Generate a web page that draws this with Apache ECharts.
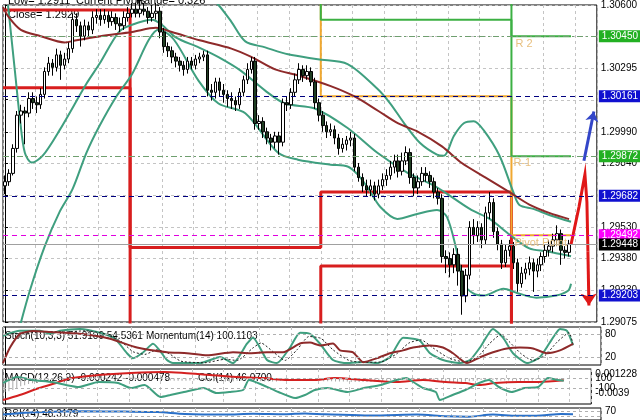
<!DOCTYPE html>
<html><head><meta charset="utf-8">
<script src="https://cdn.jsdelivr.net/npm/echarts@6/dist/echarts.min.js"></script>
<style>html,body{margin:0;padding:0;background:#fff}#c{width:640px;height:420px}</style>
</head><body><div id="c"></div>
<script>
// ---------- price candles (index 0..142) ----------
const openP = [1.2973,1.2975,1.2979,1.2991,1.3007,1.3009,1.3008,1.3015,1.3013,1.3012,1.3017,1.3028,1.3032,1.3030,1.3036,1.3031,1.3034,1.3039,1.3053,1.3050,1.3045,1.3050,1.3048,1.3054,1.3055,1.3053,1.3055,1.3052,1.3054,1.3051,1.3050,1.3054,1.3056,1.3058,1.3056,1.3058,1.3057,1.3054,1.3056,1.3057,1.3047,1.3040,1.3038,1.3035,1.3033,1.3031,1.3029,1.3033,1.3031,1.3034,1.3035,1.3036,1.3019,1.3018,1.3023,1.3019,1.3017,1.3015,1.3014,1.3012,1.3018,1.3024,1.3029,1.3033,1.3003,1.3004,1.2999,1.2996,1.2994,1.2997,1.2994,1.3013,1.3012,1.3018,1.3024,1.3029,1.3026,1.3028,1.3023,1.3013,1.3007,1.3002,1.2999,1.3000,1.2996,1.2991,1.2993,1.2995,1.2996,1.2982,1.2977,1.2973,1.2971,1.2973,1.2969,1.2973,1.2976,1.2978,1.2982,1.2985,1.2980,1.2985,1.2989,1.2977,1.2972,1.2975,1.2979,1.2978,1.2975,1.2970,1.2967,1.2939,1.2938,1.2935,1.2940,1.2932,1.2920,1.2930,1.2953,1.2949,1.2953,1.2947,1.2960,1.2965,1.2951,1.2945,1.2936,1.2942,1.2944,1.2936,1.2926,1.2931,1.2933,1.2936,1.2932,1.2935,1.2939,1.2942,1.2944,1.2947,1.2950,1.2942,1.2941];
const closeP = [1.2975,1.2979,1.2991,1.3007,1.3009,1.3008,1.3015,1.3013,1.3012,1.3017,1.3028,1.3032,1.3030,1.3036,1.3031,1.3034,1.3039,1.3053,1.3050,1.3045,1.3050,1.3048,1.3054,1.3055,1.3053,1.3055,1.3052,1.3054,1.3051,1.3050,1.3054,1.3056,1.3058,1.3056,1.3058,1.3057,1.3054,1.3056,1.3057,1.3047,1.3040,1.3038,1.3035,1.3033,1.3031,1.3029,1.3033,1.3031,1.3034,1.3035,1.3036,1.3019,1.3018,1.3023,1.3019,1.3017,1.3015,1.3014,1.3012,1.3018,1.3024,1.3029,1.3033,1.3003,1.3004,1.2999,1.2996,1.2994,1.2997,1.2994,1.3013,1.3012,1.3018,1.3024,1.3029,1.3026,1.3028,1.3023,1.3013,1.3007,1.3002,1.2999,1.3000,1.2996,1.2991,1.2993,1.2995,1.2996,1.2982,1.2977,1.2973,1.2971,1.2973,1.2969,1.2973,1.2976,1.2978,1.2982,1.2985,1.2980,1.2985,1.2989,1.2977,1.2972,1.2975,1.2979,1.2978,1.2975,1.2970,1.2967,1.2939,1.2938,1.2935,1.2940,1.2932,1.2920,1.2930,1.2953,1.2949,1.2953,1.2947,1.2960,1.2965,1.2951,1.2945,1.2936,1.2942,1.2944,1.2936,1.2926,1.2931,1.2933,1.2936,1.2932,1.2935,1.2939,1.2942,1.2944,1.2947,1.2950,1.2942,1.2941,1.2945];
const highP = [1.2978,1.2981,1.2993,1.3009,1.3012,1.3011,1.3018,1.3018,1.3016,1.3020,1.3030,1.3035,1.3034,1.3039,1.3038,1.3037,1.3042,1.3056,1.3056,1.3052,1.3053,1.3052,1.3057,1.3058,1.3058,1.3058,1.3057,1.3057,1.3056,1.3054,1.3057,1.3059,1.3061,1.3061,1.3062,1.3061,1.3059,1.3060,1.3061,1.3059,1.3049,1.3042,1.3040,1.3037,1.3035,1.3033,1.3035,1.3035,1.3036,1.3037,1.3038,1.3038,1.3022,1.3025,1.3025,1.3022,1.3019,1.3018,1.3016,1.3020,1.3026,1.3032,1.3035,1.3035,1.3007,1.3006,1.3001,1.2998,1.2999,1.2999,1.3015,1.3016,1.3020,1.3027,1.3032,1.3031,1.3031,1.3030,1.3025,1.3015,1.3009,1.3004,1.3003,1.3002,1.2998,1.2996,1.2997,1.2999,1.2998,1.2984,1.2979,1.2976,1.2976,1.2975,1.2976,1.2979,1.2981,1.2985,1.2988,1.2988,1.2989,1.2992,1.2991,1.2979,1.2978,1.2982,1.2982,1.2980,1.2977,1.2972,1.2969,1.2942,1.2941,1.2943,1.2943,1.2935,1.2933,1.2956,1.2957,1.2956,1.2955,1.2963,1.2970,1.2967,1.2953,1.2947,1.2945,1.2947,1.2946,1.2938,1.2934,1.2936,1.2939,1.2938,1.2938,1.2941,1.2945,1.2947,1.2950,1.2954,1.2952,1.2944,1.2947];
const lowP = [1.2969,1.2973,1.2978,1.2989,1.3003,1.2993,1.3006,1.3010,1.3008,1.3010,1.3015,1.3026,1.3026,1.3028,1.3024,1.3029,1.3032,1.3037,1.3047,1.3040,1.3043,1.3045,1.3046,1.3051,1.3050,1.3051,1.3049,1.3050,1.3048,1.3047,1.3048,1.3052,1.3054,1.3054,1.3054,1.3055,1.3051,1.3052,1.3053,1.3044,1.3037,1.3035,1.3032,1.3030,1.3028,1.3026,1.3027,1.3029,1.3029,1.3032,1.3033,1.3016,1.3014,1.3015,1.3016,1.3013,1.3011,1.3010,1.3009,1.3010,1.3016,1.3022,1.3027,1.3000,1.3000,1.2996,1.2993,1.2990,1.2991,1.2988,1.2992,1.3009,1.3010,1.3016,1.3022,1.3023,1.3024,1.3021,1.3010,1.3004,1.2999,1.2996,1.2997,1.2993,1.2988,1.2989,1.2990,1.2992,1.2980,1.2975,1.2970,1.2968,1.2968,1.2966,1.2967,1.2971,1.2973,1.2976,1.2979,1.2977,1.2978,1.2983,1.2974,1.2968,1.2969,1.2973,1.2975,1.2972,1.2967,1.2964,1.2936,1.2931,1.2929,1.2931,1.2925,1.2911,1.2917,1.2928,1.2945,1.2946,1.2943,1.2945,1.2957,1.2948,1.2942,1.2933,1.2934,1.2939,1.2933,1.2922,1.2924,1.2928,1.2930,1.2922,1.2929,1.2932,1.2936,1.2939,1.2941,1.2944,1.2935,1.2938,1.2939];

// ---------- overlay lines [candle index, price] ----------
const maLine = [[-0.5,1.3059],[1,1.3054],[4,1.3048],[9,1.3045],[15,1.3042],[18,1.3043],[24,1.3045],[32,1.3047],[38,1.3049],[42,1.3047],[49,1.3043],[57,1.3039],[62,1.3035],[68,1.3029],[74,1.3026],[82,1.3021],[88,1.3016],[94,1.3009],[99,1.3003],[104,1.2999],[110,1.2992],[115,1.2984],[121,1.2977],[127,1.2970],[132,1.2964],[137,1.2960],[142,1.2957]];
const bbMid = [[0.75,1.3060],[2.5,1.30282],[3.75,1.30055],[5,1.29889],[6.75,1.29842],[9.5,1.29875],[13.75,1.29998],[20.5,1.30221],[23.75,1.30316],[28.75,1.30472],[32,1.30505],[37,1.30529],[39.5,1.30505],[43,1.30444],[48.75,1.30396],[53.75,1.30349],[59.5,1.30282],[65.5,1.30188],[70.5,1.30126],[78,1.30102],[86.25,1.30008],[93.75,1.29889],[101.25,1.29794],[108.75,1.29723],[117,1.29619],[122,1.29571],[127,1.29496],[132,1.29429],[136.25,1.29415],[142.5,1.29391]];
const bbLow = [[3,1.2900],[6.25,1.29225],[10,1.29439],[13.75,1.29605],[17,1.29714],[20.5,1.29889],[23.75,1.30017],[28,1.30159],[32,1.30268],[36.25,1.30434],[38.75,1.30482],[42.5,1.30434],[48.75,1.30235],[53.75,1.30126],[60.5,1.30079],[68.75,1.29889],[73.75,1.29856],[82,1.29832],[86.25,1.29823],[88.75,1.29785],[91.25,1.29723],[94.5,1.29628],[98.75,1.29571],[103.75,1.29595],[108.75,1.29614],[111.25,1.29581],[113.75,1.29415],[115.5,1.29259],[118,1.29211],[120.5,1.29202],[125.5,1.29235],[128.75,1.29216],[133.75,1.29192],[138.75,1.29202],[141.75,1.29225],[142.5,1.29259]];
const bbUp = [[48.75,1.30695],[53.75,1.3060],[57,1.30519],[60.5,1.30425],[65.5,1.30396],[71.25,1.30363],[78.75,1.30339],[86.25,1.30316],[93.75,1.30197],[97,1.30126],[100.5,1.30031],[104.5,1.29936],[108.75,1.2988],[110.5,1.29875],[113,1.2997],[115.5,1.30031],[118,1.30041],[120.5,1.29998],[124.5,1.29875],[128,1.29699],[129.5,1.29638],[133,1.29619],[137,1.2959],[142.5,1.29557]];

// ---------- daily pivot / range step levels ----------
const dayBounds = [-0.5, 31.5, 79.5, 127.5, 142.5];
const redA = [1.30576, 1.29434, 1.29700, 1.2880];
const redB = [1.30202, 1.2880, 1.29344, 1.2880];
const pivotLv = [1.3070, 1.3070, 1.30161, 1.29492];
const r1Lv = [1.3070, 1.3070, 1.30529, 1.29872];
const r2Lv = [1.3070, 1.3070, 1.3070, 1.30450];

// ---------- horizontal levels with price tags ----------
const levelVals = [1.30450, 1.30161, 1.29872, 1.29682, 1.29492, 1.29448, 1.29203];
const levelCols = ['#6f9f6f', '#000080', '#6f9f6f', '#000080', '#e000e0', '#a0a0a0', '#000080'];
const levelTags = ['#22b022', '#1010d0', '#22b022', '#1010d0', '#ff00ff', '#000000', '#1010d0'];

// ---------- arrows ----------
const blueArrow = [[145.75,1.29851],[148.25,1.30088]];
const redArrow = [[142.5,1.29448],[144.5,1.29628],[146,1.29785],[146.5,1.29652],[146.75,1.29415],[147,1.29154]];

// ---------- tick labels ----------
const priceTicks = [1.29075,1.2923,1.2938,1.2953,1.29685,1.2984,1.2999,1.30145,1.30295,1.3045,1.306];

// ---------- sub indicators [index, value] ----------
const stochMain = [[-0.5,77],[3.75,90],[8.75,90],[11.25,82],[13.75,90],[18.75,95],[23.75,85],[27.5,69],[30.5,31],[32,18],[34.5,33],[37,56],[40.5,13],[42,5],[48.75,5],[53.75,21],[57,5],[60.5,56],[62,72],[65.5,13],[68,5],[71.25,46],[73.75,85],[76.25,82],[78.75,56],[82,13],[85.5,5],[89.5,8],[93,5],[96.25,21],[99.5,72],[102,69],[103.75,64],[106.25,31],[109.5,13],[113.75,5],[116.25,13],[118.75,46],[122,95],[124.5,72],[127,31],[130.5,5],[133.75,21],[137,72],[138.75,95],[140.5,90],[142,51.91]];
const stochSig = [[-0.5,80],[5,85],[10,88],[15,87],[20,90],[25,82],[29,62],[32,35],[35,28],[38,40],[41,30],[44,10],[50,6],[55,15],[58,12],[62,45],[64,58],[67,35],[70,12],[73,40],[76,75],[79,70],[82,40],[86,12],[90,7],[94,8],[98,30],[101,58],[104,66],[107,45],[111,18],[115,8],[118,20],[121,55],[124,80],[126,62],[129,30],[132,12],[135,25],[138,60],[141,85],[142,54.54]];
const momentum = [[-0.5,99.10],[1.25,99.92],[3.75,100.64],[7,100.79],[11.25,100.74],[18.75,100.64],[26.25,100.38],[33,99.92],[40.5,99.67],[45.5,99.62],[50.5,99.51],[57,99.67],[61.25,99.62],[65.5,99.67],[69.5,99.67],[73.75,100.13],[76.25,100.18],[78.75,100.03],[82,100.13],[83.75,99.77],[87,99.67],[89.5,99.15],[93,99.36],[96.25,99.62],[99.5,99.77],[102,99.92],[106.25,100.03],[109.5,99.92],[112,99.62],[115.5,99.10],[118.75,99.41],[122,99.67],[125.5,99.87],[128.75,99.92],[132,99.87],[135.5,99.62],[138.75,99.77],[142,100.11]];
const macdHist = [-0.0036,-0.0034,-0.0031,-0.0026,-0.0021,-0.0018,-0.0015,-0.0013,-0.0011,-0.0009,
-0.0007,-0.0005,-0.0004,-0.0002,-0.0001,0.0001,0.0002,0.0003,0.0003,0.0002,
0.0003,0.0003,0.0004,0.0004,0.0003,0.0003,0.0002,0.0002,0.0002,0.0001,
0.0002,0.0002,0.0003,0.0003,0.0002,0.0002,0.0002,0.0001,0.0001,-0.0001,
-0.0003,-0.0004,-0.0005,-0.0006,-0.0006,-0.0006,-0.0006,-0.0005,-0.0005,-0.0004,
-0.0004,-0.0006,-0.0007,-0.0007,-0.0007,-0.0007,-0.0008,-0.0008,-0.0007,-0.0006,
-0.0005,-0.0004,-0.0003,-0.0005,-0.0006,-0.0007,-0.0008,-0.0008,-0.0008,-0.0008,
-0.0006,-0.0005,-0.0004,-0.0003,-0.0002,-0.0002,-0.0002,-0.0003,-0.0004,-0.0005,
-0.0006,-0.0007,-0.0007,-0.0007,-0.0008,-0.0008,-0.0008,-0.0008,-0.0009,-0.0009,
-0.0009,-0.0009,-0.0009,-0.0009,-0.0008,-0.0008,-0.0007,-0.0006,-0.0005,-0.0005,
-0.0005,-0.0004,-0.0004,-0.0005,-0.0005,-0.0005,-0.0005,-0.0005,-0.0006,-0.0006,
-0.0008,-0.0009,-0.0009,-0.0009,-0.0009,-0.0009,-0.0009,-0.0008,-0.0007,-0.0006,
-0.0005,-0.0004,-0.0003,-0.0003,-0.0004,-0.0005,-0.0005,-0.0005,-0.0005,-0.0006,
-0.0006,-0.0006,-0.0006,-0.0005,-0.0005,-0.0004,-0.0004,-0.0003,-0.0003,-0.0002,
-0.0002,-0.0002,-0.000242];
const macdSignal = [[-0.5,-0.005789],[3.75,-0.00444],[8.75,-0.00255],[13,-0.001201],[17,0.000148],[23.75,0.000958],[32,0.001498],[40.5,0.001768],[45.5,0.001498],[52,0.000958],[58.75,0.000418],[65.5,0.000148],[72,-0.000391],[78.75,-0.000391],[83.75,0.000148],[91.25,-0.000391],[99.5,-0.000931],[106.25,-0.000391],[112,-0.000931],[117,-0.001201],[120.5,-0.001741],[124.5,-0.001201],[130.5,-0.000931],[135.5,-0.000931],[142,-0.000478]];
const cci = [[-0.5,0],[3,120],[7,60],[12,20],[15.5,-40],[18.75,-80],[23.75,20],[28.75,0],[32,-100],[35.5,-40],[39.5,-280],[42,-240],[45.5,-180],[50.5,-100],[53.75,-200],[57,-180],[60.5,-140],[62,60],[65.5,-40],[69.5,-180],[73.75,-300],[76.25,-240],[78.75,-140],[82,-100],[87,-180],[91.25,-100],[95.5,-40],[99.5,60],[102,100],[103.75,20],[106.25,-100],[109.5,-180],[110.5,-340],[113.75,-240],[117,-140],[120.5,0],[123,60],[125.5,-80],[128.75,-180],[132,-100],[135.5,-80],[138,100],[140.5,60],[142,46.07]];
const rsi = [[-0.5,45],[5,60],[12,68],[20,72],[30,70],[38,66],[45,50],[55,45],[62,52],[70,48],[75,55],[80,47],[90,38],[98,42],[103,45],[110,32],[116,28],[122,45],[128,35],[134,38],[139,50],[142,48.32]];

const idx = openP.map((_, i) => i);
const candles = idx.map(i => [i, openP[i], closeP[i], lowP[i], highP[i]]);
const hist = idx.map(i => [i, macdHist[i]]);
function steps(levels) { const out = []; levels.forEach((v, d) => { out.push([dayBounds[d], v]); out.push([dayBounds[d + 1], v]); }); return out; }

const FONT = 'Liberation Sans';
const gridLine = { show: true, lineStyle: { color: '#c4c4c4', type: [3, 3], width: 1 } };
function xPair(gi) {
  return [
    { type: 'value', gridIndex: gi, min: -0.5, max: 149, show: false },
    { type: 'value', gridIndex: gi, min: 0, max: 149.5, interval: 8, axisLine: { show: false }, axisTick: { show: false }, axisLabel: { show: false }, splitLine: gridLine }
  ];
}
const lbl = (vals, fmt, size) => ({ customValues: vals, formatter: fmt, color: '#000', fontFamily: FONT, fontSize: size || 10, margin: 4 });
const axLine = { show: true, lineStyle: { color: '#000', width: 1 } };
const txt = (s, l, t, fs) => ({ type: 'text', left: l, top: t, style: { text: s, fill: '#000', fontSize: fs, fontFamily: FONT } });

const chart = echarts.init(document.getElementById('c'));
chart.setOption({
  animation: false,
  backgroundColor: '#fff',
  grid: [
    { left: 3, right: 39, top: 0, height: 322, show: true, borderColor: '#000', borderWidth: 1 },
    { left: 3, right: 39, top: 327, height: 38, show: true, borderColor: '#000', borderWidth: 1 },
    { left: 3, right: 39, top: 369, height: 35, show: true, borderColor: '#000', borderWidth: 1 },
    { left: 3, right: 39, top: 408, height: 16, show: true, borderColor: '#000', borderWidth: 1 }
  ],
  xAxis: [].concat(xPair(0), xPair(1), xPair(2), xPair(3)),
  yAxis: [
    { type: 'value', gridIndex: 0, position: 'right', min: 1.29075, max: 1.306, splitLine: { show: false }, axisLine: axLine,
      axisTick: { show: true, customValues: priceTicks, length: 3, lineStyle: { color: '#000' } },
      axisLabel: lbl(priceTicks, v => v.toFixed(5)) },
    { type: 'value', gridIndex: 0, min: 0, max: 10, interval: 1, axisLine: { show: false }, axisTick: { show: false }, axisLabel: { show: false }, splitLine: gridLine },
    { type: 'value', gridIndex: 1, position: 'right', min: 0, max: 100, splitLine: { show: false }, axisLine: axLine, axisTick: { show: false },
      axisLabel: lbl([20, 80], v => String(v)) },
    { type: 'value', gridIndex: 1, position: 'right', min: 99, max: 101, show: false },
    { type: 'value', gridIndex: 2, position: 'right', min: -0.006869, max: 0.002577, splitLine: { show: false }, axisLine: axLine, axisTick: { show: false },
      axisLabel: lbl([0.001228, -0.0039], v => v < 0 ? '-0.0039' : '0.001228') },
    { type: 'value', gridIndex: 2, position: 'right', min: -420, max: 280, splitLine: { show: false }, axisLine: { show: false }, axisTick: { show: false },
      axisLabel: lbl([100, -100], v => String(v)) },
    { type: 'value', gridIndex: 3, position: 'right', min: 0, max: 100, splitLine: { show: false }, axisLine: axLine, axisTick: { show: false },
      axisLabel: lbl([100, 70], v => String(v)) }
  ],
  graphic: [
    txt('Low= 1.2911', 8, -5, 11),
    txt('Close= 1.2929', 8, 9, 11),
    txt('Current Pivots', 76, -5, 11),
    txt('Range= 0.326', 136, -5, 11),
    txt('Stoch(10,3,3) 51.9109 54.5361', 5, 331, 10),
    txt('Momentum(14) 100.1103', 146, 331, 10),
    txt('MACD(12,26,9) -0.000242 -0.000478', 5, 373, 10),
    txt('CCI(14) 46.0700', 198, 373, 10),
    txt('RSI(14) 48.3179', 5, 409, 10)
  ],
  series: [
    { type: 'line', xAxisIndex: 0, yAxisIndex: 0, data: steps(redA), showSymbol: false, lineStyle: { color: '#d81e1e', width: 3 }, z: 1 },
    { type: 'line', xAxisIndex: 0, yAxisIndex: 0, data: steps(redB), showSymbol: false, lineStyle: { color: '#d81e1e', width: 3 }, z: 1 },
    { type: 'line', xAxisIndex: 0, yAxisIndex: 0, data: steps(pivotLv), showSymbol: false, lineStyle: { color: '#f0a830', width: 2 }, z: 1,
      markPoint: { symbol: 'circle', symbolSize: 0, data: [{ coord: [dayBounds[3], pivotLv[3]], label: { show: true, position: 'right', distance: 3, offset: [0, 8], formatter: 'Pivot Point', color: '#e8c080', fontSize: 11, fontFamily: FONT } }] } },
    { type: 'line', xAxisIndex: 0, yAxisIndex: 0, data: steps(r1Lv), showSymbol: false, lineStyle: { color: '#3cb043', width: 2 }, z: 1,
      markPoint: { symbol: 'circle', symbolSize: 0, data: [{ coord: [dayBounds[3], r1Lv[3]], label: { show: true, position: 'right', distance: 2, offset: [0, 7], formatter: 'R-1', color: '#e8c080', fontSize: 11, fontFamily: FONT } }] } },
    { type: 'line', xAxisIndex: 0, yAxisIndex: 0, data: steps(r2Lv), showSymbol: false, lineStyle: { color: '#3cb043', width: 2 }, z: 1,
      markPoint: { symbol: 'circle', symbolSize: 0, data: [{ coord: [dayBounds[3], r2Lv[3]], label: { show: true, position: 'right', distance: 4, offset: [0, 8], formatter: 'R 2', color: '#e8c080', fontSize: 11, fontFamily: FONT } }] } },
    { type: 'line', xAxisIndex: 0, yAxisIndex: 0, data: bbUp, smooth: 0.3, showSymbol: false, lineStyle: { color: '#3f9f7f', width: 2 }, z: 2 },
    { type: 'line', xAxisIndex: 0, yAxisIndex: 0, data: bbMid, smooth: 0.3, showSymbol: false, lineStyle: { color: '#3f9f7f', width: 2 }, z: 2 },
    { type: 'line', xAxisIndex: 0, yAxisIndex: 0, data: bbLow, smooth: 0.3, showSymbol: false, lineStyle: { color: '#3f9f7f', width: 2 }, z: 2 },
    { type: 'line', xAxisIndex: 0, yAxisIndex: 0, data: maLine, smooth: 0.3, showSymbol: false, lineStyle: { color: '#8e2a2a', width: 2 }, z: 2,
      markLine: { symbol: 'none', silent: true, animation: false, precision: 5,
        data: levelVals.map((v, k) => ({ yAxis: v,
          lineStyle: { color: levelCols[k], type: k === 5 ? 'solid' : (k === 0 || k === 2 ? [6, 3, 2, 3] : [5, 4]), width: 1 },
          label: { show: true, position: 'end', distance: 2, formatter: v.toFixed(5), color: '#fff', backgroundColor: levelTags[k], padding: [1, 3, 1, 3], fontSize: 10, fontFamily: FONT } })) } },
    { type: 'candlestick', xAxisIndex: 0, yAxisIndex: 0, data: candles, encode: { x: 0, y: [1, 2, 3, 4] }, barWidth: 3, z: 3,
      itemStyle: { color: '#ffffff', color0: '#1f3d22', borderColor: '#000000', borderColor0: '#000000', borderWidth: 1 } },
    { type: 'lines', coordinateSystem: 'cartesian2d', xAxisIndex: 0, yAxisIndex: 0, polyline: true, z: 4,
      lineStyle: { color: '#e01818', width: 3, opacity: 1 }, data: [{ coords: redArrow.slice(0, -1) }] },
    { type: 'lines', coordinateSystem: 'cartesian2d', xAxisIndex: 0, yAxisIndex: 0, z: 4, symbol: ['none', 'arrow'], symbolSize: 12,
      lineStyle: { color: '#e01818', width: 3, opacity: 1 }, data: [{ coords: redArrow.slice(-2) }] },
    { type: 'lines', coordinateSystem: 'cartesian2d', xAxisIndex: 0, yAxisIndex: 0, z: 4, symbol: ['none', 'arrow'], symbolSize: 10,
      lineStyle: { color: '#3346c8', width: 3, opacity: 1 }, data: [{ coords: blueArrow }] },
    // stoch / momentum
    { type: 'line', xAxisIndex: 2, yAxisIndex: 2, data: stochMain, smooth: 0.2, showSymbol: false, lineStyle: { color: '#3f9f7f', width: 2 },
      markLine: { symbol: 'none', silent: true, label: { show: false }, lineStyle: { color: '#b0b0b0', type: [3, 3], width: 1 }, data: [{ yAxis: 20 }, { yAxis: 80 }] } },
    { type: 'line', xAxisIndex: 2, yAxisIndex: 2, data: stochSig, smooth: 0.2, showSymbol: false, lineStyle: { color: '#202020', width: 1, type: [2, 2] } },
    { type: 'line', xAxisIndex: 2, yAxisIndex: 3, data: momentum, smooth: 0.2, showSymbol: false, lineStyle: { color: '#8e2a2a', width: 2 } },
    // macd / cci
    { type: 'bar', xAxisIndex: 4, yAxisIndex: 4, data: hist, barWidth: 1, itemStyle: { color: '#a8a8a8' } },
    { type: 'line', xAxisIndex: 4, yAxisIndex: 4, data: macdSignal, smooth: 0.3, showSymbol: false, lineStyle: { color: '#d42020', width: 2 } },
    { type: 'line', xAxisIndex: 4, yAxisIndex: 5, data: cci, smooth: 0.2, showSymbol: false, lineStyle: { color: '#3f9f7f', width: 2 },
      markLine: { symbol: 'none', silent: true, label: { show: false }, lineStyle: { color: '#b0b0b0', type: [3, 3], width: 1 }, data: [{ yAxis: 100 }, { yAxis: -100 }] } },
    // rsi
    { type: 'line', xAxisIndex: 6, yAxisIndex: 6, data: rsi, smooth: 0.3, showSymbol: false, lineStyle: { color: '#2a70c8', width: 2 },
      markLine: { symbol: 'none', silent: true, label: { show: false }, lineStyle: { color: '#b0b0b0', type: [3, 3], width: 1 }, data: [{ yAxis: 70 }, { yAxis: 30 }] } }
  ]
});
</script>
</body></html>
